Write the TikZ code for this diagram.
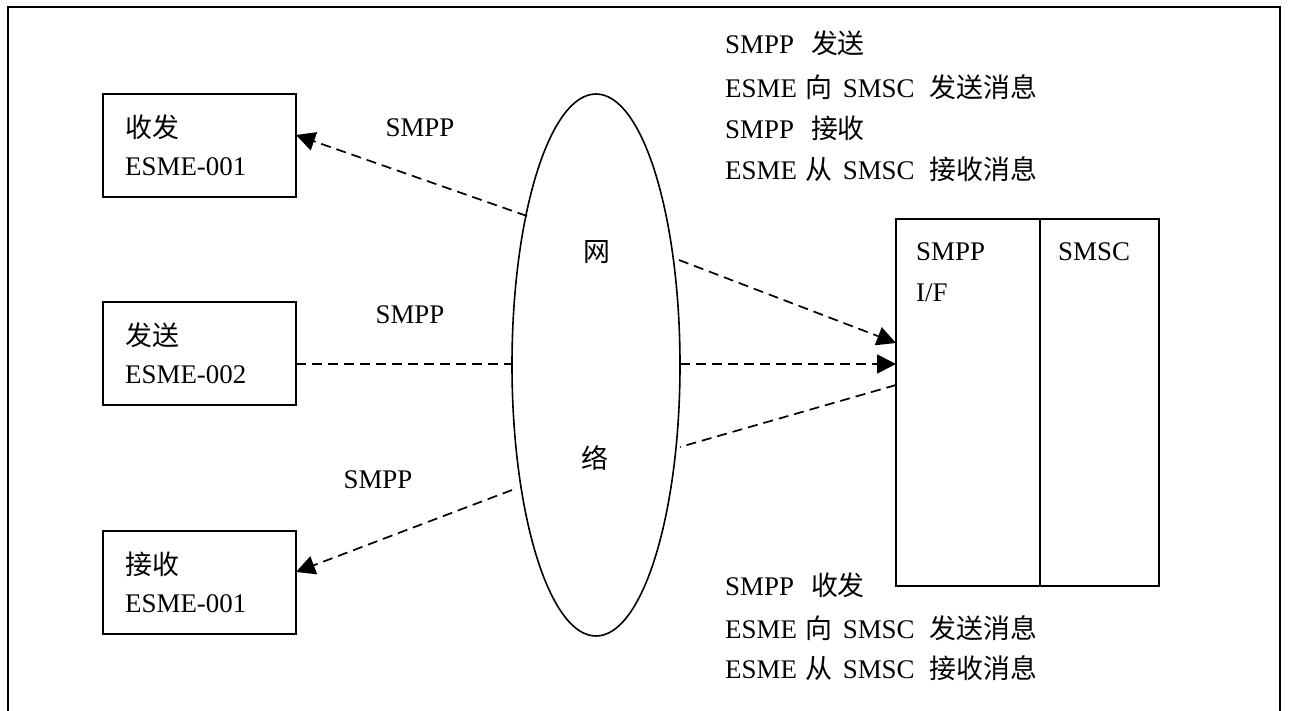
\documentclass[tikz,border=0pt]{standalone}
\usepackage{fontspec}
\setmainfont{Liberation Serif}
\newfontfamily\cjk{Noto Sans CJK SC}
\usetikzlibrary{arrows.meta,shapes.geometric}
\begin{document}
\begin{tikzpicture}[x=1bp,y=-1bp,
  font=\fontsize{27}{31}\selectfont,
  boxnode/.style={draw,line width=1.6bp,inner sep=0pt},
  txt/.style={anchor=west,inner sep=0pt},
  link/.style={line width=1.7bp,dash pattern=on 10bp off 6bp},
  tip/.style={-{Triangle[length=19bp,width=19bp]}}]
\useasboundingbox (0,0) rectangle (1290,711);
\draw[line width=2.4bp] (8,740) -- (8,7) -- (1280,7) -- (1280,740);
% ESME boxes
\node[boxnode,minimum width=193bp,minimum height=103bp] (b1) at (199.5,145.5) {};
\node[boxnode,minimum width=193bp,minimum height=103bp] (b2) at (199.5,353.5) {};
\node[boxnode,minimum width=193bp,minimum height=103bp] (b3) at (199.5,582.5) {};
\node[txt] (b1a) at (125,127) {\cjk 收发};
\node[txt] (b1b) at (125,167) {ESME-001};
\node[txt] (b2a) at (125,335) {\cjk 发送};
\node[txt] (b2b) at (125,375) {ESME-002};
\node[txt] (b3a) at (125,564) {\cjk 接收};
\node[txt] (b3b) at (125,604) {ESME-001};
% network
\node[draw,ellipse,line width=1.6bp,minimum width=168bp,minimum height=542bp,inner sep=0pt] (net) at (596,365) {};
\node (n1) at (597,252) {\cjk 网};
\node (n2) at (595,458) {\cjk 络};
% SMSC
\node[boxnode,minimum width=144bp,minimum height=367bp] (ifb) at (968,402.5) {};
\node[boxnode,minimum width=119bp,minimum height=367bp] (scb) at (1099.5,402.5) {};
\node[txt] (ifa) at (916,252) {SMPP};
\node[txt] (ifc) at (916,293) {I/F};
\node[txt] (sca) at (1058,252) {SMSC};
% labels
\node (l1) at (420,128) {SMPP};
\node (l2) at (410,315) {SMPP};
\node (l3) at (378,480) {SMPP};
\node[txt] (r1) at (725,43) {SMPP\hspace{17bp}{\cjk 发送}};
\node[txt] (r2) at (725,87) {ESME\hspace{9bp}{\cjk 向}\hspace{10bp}SMSC\hspace{15bp}{\cjk 发送消息}};
\node[txt] (r3) at (725,128) {SMPP\hspace{17bp}{\cjk 接收}};
\node[txt] (r4) at (725,169) {ESME\hspace{9bp}{\cjk 从}\hspace{10bp}SMSC\hspace{15bp}{\cjk 接收消息}};
\node[txt] (r5) at (725,585) {SMPP\hspace{17bp}{\cjk 收发}};
\node[txt] (r6) at (725,628) {ESME\hspace{9bp}{\cjk 向}\hspace{10bp}SMSC\hspace{15bp}{\cjk 发送消息}};
\node[txt] (r7) at (725,668) {ESME\hspace{9bp}{\cjk 从}\hspace{10bp}SMSC\hspace{15bp}{\cjk 接收消息}};
% connector points
\coordinate (e1) at (527,216);
\coordinate (e2) at (679,260);
\coordinate (e3) at (513,364);
\coordinate (e4) at (680,364);
\coordinate (e5) at (680,447);
\coordinate (e6) at (512,490);
\coordinate (s1) at (896,343);
\coordinate (s2) at (896,364);
\coordinate (s3) at (896,385);
\coordinate (a1) at (296,135);
\coordinate (a2) at (296,364);
\coordinate (a3) at (296,572);
\draw[link,tip] (e1) -- (a1);
\draw[link,tip] (e2) -- (s1);
\draw[link] (a2) -- (e3);
\draw[link,tip] (e4) -- (s2);
\draw[link] (s3) -- (e5);
\draw[link,tip] (e6) -- (a3);
\end{tikzpicture}
\end{document}
